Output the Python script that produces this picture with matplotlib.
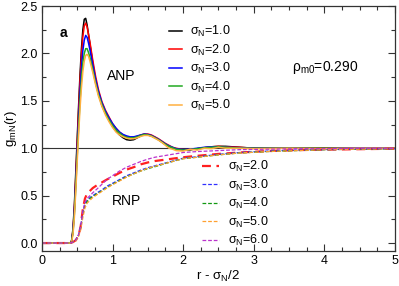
import matplotlib
matplotlib.use("Agg")
import matplotlib.pyplot as plt
from matplotlib.ticker import MultipleLocator, FormatStrFormatter

plt.rcParams["font.family"] = ["Liberation Sans", "DejaVu Sans"]
plt.rcParams["mathtext.fontset"] = "custom"
plt.rcParams["mathtext.rm"] = "Liberation Sans"

# ANP curves (solid), shared r grid
r_anp = [0.0, 0.40, 0.42, 0.44, 0.46, 0.48, 0.50, 0.52, 0.54, 0.56, 0.58, 0.60, 0.62,
         0.64, 0.66, 0.68, 0.72, 0.76, 0.80, 0.85, 0.90, 0.95, 1.00, 1.05, 1.10, 1.15,
         1.20, 1.25, 1.30, 1.35, 1.40, 1.45, 1.50, 1.55, 1.60, 1.65, 1.70, 1.75, 1.80,
         1.85, 1.90, 2.00, 2.10, 2.20, 2.30, 2.40, 2.50, 2.60, 2.80, 3.00, 3.50, 4.00,
         4.50, 5.00]
g_anp_1 = [0, 0, 0.02, 0.15, 0.40, 0.75, 1.10, 1.45, 1.78, 2.05, 2.25, 2.36, 2.37,
           2.30, 2.20, 2.10, 1.90, 1.72, 1.58, 1.45, 1.37, 1.30, 1.23, 1.18, 1.14, 1.11,
           1.09, 1.085, 1.09, 1.11, 1.13, 1.145, 1.14, 1.13, 1.115, 1.09, 1.065, 1.04, 1.02,
           1.005, 0.99, 0.98, 0.985, 0.995, 1.005, 1.015, 1.02, 1.02, 1.01, 1.0, 1.0, 1.0,
           1.0, 1.0]
g_anp_2 = [0, 0, 0.02, 0.13, 0.37, 0.70, 1.05, 1.40, 1.72, 1.98, 2.18, 2.29, 2.32,
           2.28, 2.20, 2.12, 1.93, 1.76, 1.62, 1.49, 1.40, 1.33, 1.26, 1.21, 1.17, 1.14,
           1.12, 1.11, 1.115, 1.125, 1.14, 1.15, 1.15, 1.14, 1.12, 1.10, 1.075, 1.05, 1.03,
           1.01, 1.0, 0.985, 0.985, 0.995, 1.005, 1.015, 1.02, 1.015, 1.01, 1.0, 1.0, 1.0,
           0.995, 1.0]
g_anp_3 = [0, 0, 0.02, 0.12, 0.34, 0.65, 0.98, 1.30, 1.60, 1.85, 2.03, 2.14, 2.19,
           2.17, 2.11, 2.04, 1.88, 1.73, 1.60, 1.48, 1.39, 1.32, 1.26, 1.21, 1.17, 1.145,
           1.13, 1.12, 1.12, 1.13, 1.14, 1.15, 1.145, 1.135, 1.115, 1.095, 1.07, 1.045, 1.025,
           1.01, 0.995, 0.985, 0.99, 1.0, 1.01, 1.015, 1.015, 1.01, 1.005, 1.0, 1.0, 0.995,
           1.0, 1.0]
g_anp_4 = [0, 0, 0.02, 0.11, 0.31, 0.60, 0.92, 1.22, 1.50, 1.73, 1.90, 2.00, 2.05,
           2.05, 2.01, 1.96, 1.83, 1.69, 1.57, 1.46, 1.37, 1.30, 1.24, 1.19, 1.16, 1.13,
           1.115, 1.11, 1.11, 1.12, 1.135, 1.145, 1.14, 1.13, 1.11, 1.09, 1.065, 1.04, 1.02,
           1.005, 0.99, 0.98, 0.985, 0.995, 1.005, 1.01, 1.015, 1.01, 1.0, 1.0, 1.0, 1.0,
           0.995, 1.0]
g_anp_5 = [0, 0, 0.01, 0.09, 0.27, 0.55, 0.86, 1.15, 1.42, 1.64, 1.81, 1.92, 1.98,
           1.99, 1.97, 1.92, 1.80, 1.67, 1.55, 1.44, 1.35, 1.28, 1.22, 1.17, 1.14, 1.12,
           1.105, 1.10, 1.10, 1.11, 1.125, 1.135, 1.135, 1.125, 1.105, 1.085, 1.06, 1.03, 1.0,
           0.99, 0.975, 0.97, 0.99, 0.98, 1.0, 0.995, 1.01, 1.0, 1.0, 0.995, 1.0, 0.995,
           1.0, 1.0]

# RNP curves (dashed), shared r grid
r_rnp = [0.0, 0.40, 0.44, 0.48, 0.52, 0.55, 0.58, 0.61, 0.64, 0.68, 0.72, 0.78, 0.85,
         0.92, 1.00, 1.10, 1.20, 1.30, 1.40, 1.50, 1.60, 1.80, 2.00, 2.20, 2.50, 2.80,
         3.20, 3.60, 4.00, 4.50, 5.00]
g_rnp_2 = [0, 0, 0.01, 0.03, 0.08, 0.18, 0.36, 0.47, 0.52, 0.55, 0.58, 0.61, 0.64,
           0.67, 0.70, 0.74, 0.775, 0.80, 0.83, 0.85, 0.865, 0.885, 0.905, 0.92, 0.94, 0.955,
           0.97, 0.98, 0.985, 0.99, 0.995]
g_rnp_3 = [0, 0, 0.01, 0.03, 0.09, 0.18, 0.33, 0.42, 0.45, 0.48, 0.50, 0.53, 0.56,
           0.60, 0.63, 0.67, 0.71, 0.74, 0.77, 0.795, 0.815, 0.855, 0.895, 0.91, 0.935, 0.955,
           0.97, 0.98, 0.985, 0.99, 0.995]
g_rnp_4 = [0, 0, 0.01, 0.03, 0.08, 0.16, 0.30, 0.40, 0.44, 0.47, 0.49, 0.52, 0.55,
           0.585, 0.62, 0.66, 0.70, 0.73, 0.76, 0.785, 0.805, 0.85, 0.89, 0.905, 0.93, 0.95,
           0.965, 0.975, 0.985, 0.99, 0.995]
g_rnp_5 = [0, 0, 0.01, 0.02, 0.07, 0.14, 0.27, 0.37, 0.42, 0.45, 0.48, 0.51, 0.545,
           0.58, 0.615, 0.655, 0.695, 0.73, 0.76, 0.79, 0.81, 0.85, 0.89, 0.905, 0.93, 0.95,
           0.965, 0.975, 0.985, 0.99, 0.995]
g_rnp_6 = [0, 0, 0.01, 0.03, 0.09, 0.18, 0.33, 0.43, 0.47, 0.50, 0.53, 0.57, 0.62,
           0.67, 0.71, 0.76, 0.80, 0.83, 0.86, 0.885, 0.905, 0.93, 0.955, 0.965, 0.975, 0.985,
           0.99, 0.995, 0.995, 1.0, 1.0]

anp_labels = ["1.0", "2.0", "3.0", "4.0", "5.0"]
rnp_labels = ["2.0", "3.0", "4.0", "5.0", "6.0"]
anp_colors = ["black", "#ff0000", "#0000ff", "#22aa22", "#ffb040"]
rnp_colors = ["#ff2020", "#3030ff", "#119911", "#ffa030", "#bb33cc"]

fig = plt.figure(figsize=(3.99, 2.86), dpi=100)
ax = fig.add_axes([0.105, 0.122, 0.885, 0.857])

ax.axhline(1.0, color="#333333", lw=0.8, zorder=1)

anp_g = [g_anp_1, g_anp_2, g_anp_3, g_anp_4, g_anp_5]
anp_handles = []
for g, c, lab in zip(anp_g, anp_colors, anp_labels):
    ln, = ax.plot(r_anp, g, color=c, lw=1.1, label="σ$_\\mathregular{N}$=" + lab)
    anp_handles.append(ln)

rnp_g = [g_rnp_2, g_rnp_3, g_rnp_4, g_rnp_5, g_rnp_6]
rnp_handles = []
for i, (g, c, lab) in enumerate(zip(rnp_g, rnp_colors, rnp_labels)):
    if i == 0:
        ln, = ax.plot(r_rnp, g, color=c, lw=1.6, dashes=(4, 2.5),
                      label="σ$_\\mathregular{N}$=" + lab)
    else:
        ln, = ax.plot(r_rnp, g, color=c, lw=0.9, dashes=(3, 1.5),
                      label="σ$_\\mathregular{N}$=" + lab)
    rnp_handles.append(ln)

ax.set_xlim(0, 5)
ax.set_ylim(-0.085, 2.5)
ax.xaxis.set_major_locator(MultipleLocator(1))
ax.xaxis.set_minor_locator(MultipleLocator(0.25))
ax.yaxis.set_major_locator(MultipleLocator(0.5))
ax.yaxis.set_minor_locator(MultipleLocator(0.25))
ax.yaxis.set_major_formatter(FormatStrFormatter("%.1f"))
ax.tick_params(which="both", direction="in", top=True, right=True,
               labelsize=9, color="#333333", pad=3)
ax.tick_params(which="major", length=5, width=0.8)
ax.tick_params(which="minor", length=3, width=0.8)
for s in ax.spines.values():
    s.set_color("#333333")
    s.set_linewidth(0.9)

ax.set_xlabel("r - σ$_\\mathregular{N}$/2", fontsize=9.5, labelpad=1)
ax.set_ylabel("g$_\\mathregular{mN}$(r)", fontsize=9.5, labelpad=1)

leg1 = ax.legend(handles=anp_handles, loc="upper left", bbox_to_anchor=(0.36, 0.925),
                 frameon=False, fontsize=9, handlelength=1.0, handletextpad=0.7,
                 labelspacing=0.27, borderaxespad=0, borderpad=0)
ax.add_artist(leg1)
ax.legend(handles=rnp_handles, loc="upper left", bbox_to_anchor=(0.453, 0.375),
          frameon=False, fontsize=9, handlelength=1.4, handletextpad=0.7,
          labelspacing=0.27, borderaxespad=0, borderpad=0)

ax.text(0.051, 0.873, "a", transform=ax.transAxes, fontsize=10, fontweight="bold")
ax.text(0.184, 0.698, "ANP", transform=ax.transAxes, fontsize=10)
ax.text(0.198, 0.188, "RNP", transform=ax.transAxes, fontsize=10)
ax.text(0.708, 0.735, "ρ$_\\mathregular{m0}$=0.290", transform=ax.transAxes, fontsize=10,
        va="baseline")

fig.savefig("out.png", dpi=100)
